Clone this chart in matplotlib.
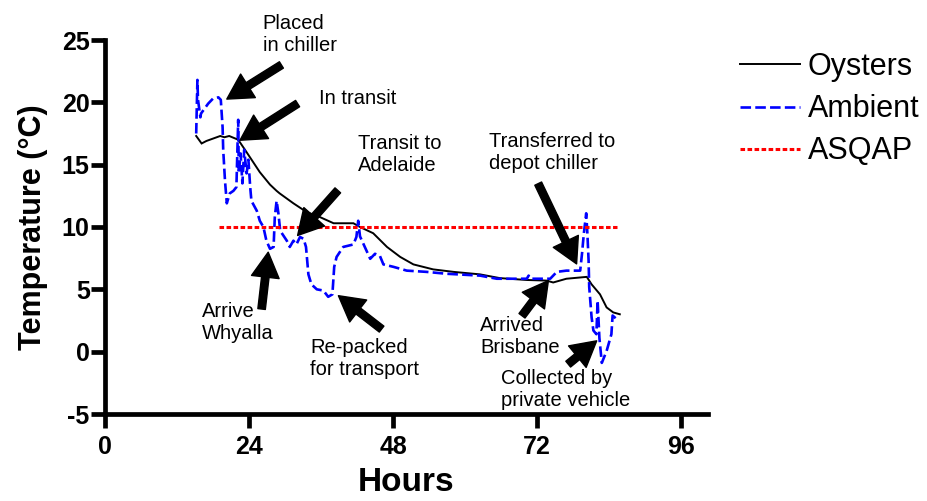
import matplotlib
matplotlib.use("Agg")
import matplotlib.pyplot as plt

plt.rcParams['font.family'] = ['Liberation Sans', 'DejaVu Sans']
plt.rcParams['axes.unicode_minus'] = False

# ---------------- data ----------------
oyster_hours = [15.2, 16.1, 16.9, 19.2, 19.9, 20.7, 22.2, 23.6, 25.8, 27.5, 28.6, 29.1,
                31.4, 33.6, 35.8, 38.1, 41.4, 42.5, 44.7, 47.0, 49.2, 51.4, 54.7, 58.1,
                62.5, 65.8, 70.3, 73.6, 74.7, 76.9, 80.3, 81.1, 82.5, 83.6, 84.7, 85.8]
oyster_temp = [17.3, 16.7, 16.9, 17.3, 17.2, 17.3, 17.0, 16.0, 14.4, 13.4, 12.9, 12.7,
               11.9, 11.2, 10.8, 10.3, 10.3, 10.0, 9.5, 8.4, 7.6, 7.0, 6.6, 6.4,
               6.2, 5.9, 5.75, 5.7, 5.55, 5.85, 6.0, 5.4, 4.6, 3.55, 3.15, 3.0]

ambient_hours = [15.2, 15.4, 15.5, 15.9, 16.0, 17.2, 18.0, 18.9, 19.3, 19.6, 19.7, 20.0,
                 20.3, 20.8, 21.4, 21.9, 22.2, 22.3, 22.6, 22.9, 23.2, 23.6, 23.9, 24.2,
                 24.4, 25.3, 25.8, 26.4, 26.9, 27.5, 28.1, 28.3, 28.6, 28.9, 29.2, 30.3,
                 30.8, 31.4, 31.9, 32.5, 33.1, 33.5, 33.9, 34.4, 35.3, 36.4, 37.2, 37.9,
                 38.2, 38.6, 39.7, 41.4, 41.9, 42.2, 42.5, 43.3, 44.2, 45.0, 45.8, 46.4,
                 48.1, 50.3, 53.6, 56.9, 62.5, 65.3, 70.3, 70.6, 71.0, 74.2, 75.3, 76.9,
                 79.2, 79.5, 79.8, 80.2, 80.4, 80.6, 80.7, 81.1, 81.4, 81.9, 82.1, 82.4,
                 82.8, 83.6, 84.4, 84.6, 85.3]
ambient_temp = [17.5, 21.8, 20.2, 18.8, 19.1, 19.9, 20.3, 20.4, 20.2, 18.0, 16.2, 13.7,
                11.9, 12.7, 12.9, 13.2, 18.6, 14.3, 15.9, 13.5, 16.2, 14.3, 15.4, 13.2,
                12.1, 11.3, 10.5, 10.0, 8.9, 8.25, 8.4, 10.8, 12.1, 11.1, 9.7, 8.9,
                8.4, 8.9, 8.6, 9.2, 9.05, 8.4, 6.2, 5.4, 5.0, 4.9, 4.4, 4.6,
                6.8, 7.6, 8.4, 8.6, 9.2, 10.5, 9.25, 8.4, 7.45, 7.85, 7.7, 7.0,
                6.8, 6.5, 6.4, 6.25, 6.1, 5.85, 5.85, 6.1, 5.85, 5.85, 6.4, 6.5,
                6.5, 7.85, 9.45, 11.1, 9.45, 7.3, 5.2, 2.75, 1.7, 1.4, 4.1, 1.1,
                -0.9, 0.05, 1.4, 2.9, 2.6]

asqap_hours = [19.0, 85.3]
asqap_temp = [10.0, 10.0]

series_labels = ["Oysters", "Ambient", "ASQAP"]
x_ticks = [0, 24, 48, 72, 96]
y_ticks = [-5, 0, 5, 10, 15, 20, 25]

# annotations: (text, text position, arrow tip, arrow tail)
annotations = [
    ("Placed\nin chiller", (26.3, 25.45), (20.3, 20.26), (29.4, 23.0)),
    ("In transit", (35.6, 20.3), (22.5, 16.96), (32.1, 19.9)),
    ("Transit to\nAdelaide", (42.2, 15.8), (32.1, 9.32), (38.8, 12.94)),
    ("Arrive\nWhyalla", (16.1, 2.35), (27.2, 7.98), (26.1, 3.42)),
    ("Re-packed\nfor transport", (34.2, -0.53), (38.9, 4.49), (46.1, 1.81)),
    ("Transferred to\ndepot chiller", (64.0, 16.0), (78.6, 7.04), (72.2, 13.48)),
    ("Arrived\nBrisbane", (62.5, 1.2), (73.9, 5.7), (69.5, 2.88)),
    ("Collected by\nprivate vehicle", (66.0, -3.0), (81.95, 0.87), (77.2, -1.0)),
]

# ---------------- figure ----------------
fig = plt.figure(figsize=(9.27, 5.01), dpi=100)
ax = fig.add_axes([105 / 927, 87 / 501, 603 / 927, 374 / 501])

l1, = ax.plot(oyster_hours, oyster_temp, color='black', lw=1.4, solid_joinstyle='miter')
l2, = ax.plot(ambient_hours, ambient_temp, color='#0000ff', lw=1.9, dashes=(4, 1.6))
l3, = ax.plot(asqap_hours, asqap_temp, color='#ff0000', lw=2.2, dashes=(1.5, 0.8))

ax.set_xlim(0, 100.5)
ax.set_ylim(-5, 25)
ax.set_xticks(x_ticks)
ax.set_yticks(y_ticks)

for s in ['top', 'right']:
    ax.spines[s].set_visible(False)
for s in ['left', 'bottom']:
    ax.spines[s].set_linewidth(3.4)
    ax.spines[s].set_capstyle('projecting')
ax.tick_params(direction='out', length=10, width=3.4, labelsize=18, pad=1)
ax.tick_params(axis='x', pad=5)
for lab in ax.get_xticklabels() + ax.get_yticklabels():
    lab.set_fontweight('bold')

ax.set_xlabel("Hours", fontsize=24, fontweight='bold', labelpad=6)
ax.set_ylabel("Temperature (\u00b0C)", fontsize=22, fontweight='bold', labelpad=10)

for txt, tpos, tip, tail in annotations:
    ax.annotate(txt, xy=tpos, xycoords='data', ha='left', va='center',
                fontsize=14.5, annotation_clip=False)
    ax.annotate("", xy=tip, xytext=tail, xycoords='data', textcoords='data',
                annotation_clip=False,
                arrowprops=dict(arrowstyle='simple,head_length=0.9,head_width=1.0,tail_width=0.27',
                                mutation_scale=20, fc='black', ec='black',
                                shrinkA=0, shrinkB=0))

fig.legend([l1, l2, l3], series_labels, loc='upper left',
           bbox_to_anchor=(740 / 927, 1 - 52 / 501), frameon=False,
           fontsize=22, handlelength=1.96, handletextpad=0.26,
           labelspacing=0.4, borderpad=0, borderaxespad=0)

fig.savefig("out.png", dpi=100)
